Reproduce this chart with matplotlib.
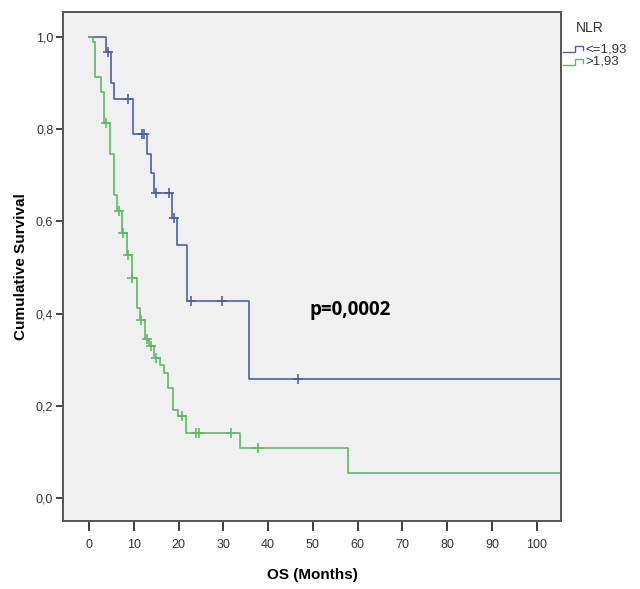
import matplotlib
matplotlib.use("Agg")
import matplotlib.pyplot as plt
from matplotlib.lines import Line2D

plt.rcParams['font.family'] = ['Liberation Sans', 'DejaVu Sans']

# Kaplan-Meier step data (time in months, survival after the step)
low_t = [0, 3.8, 4.9, 5.6, 9.8, 12.9, 13.8, 14.5, 18.5, 19.7, 21.8, 35.8, 105.5]
low_s = [1.0, 0.967, 0.90, 0.865, 0.79, 0.746, 0.704, 0.661, 0.607, 0.549, 0.428, 0.257, 0.257]
low_cens_t = [4.2, 8.7, 11.9, 12.4, 15.0, 17.9, 18.9, 22.7, 29.8, 46.7]
low_cens_s = [0.967, 0.865, 0.79, 0.79, 0.661, 0.661, 0.607, 0.428, 0.428, 0.257]

high_t = [0, 0.8, 1.3, 2.6, 3.3, 4.7, 5.5, 6.3, 7.4, 8.5, 9.7, 10.7, 11.3, 12.6,
          13.5, 14.5, 15.8, 16.7, 17.7, 18.8, 19.9, 21.6, 33.8, 57.9, 105.5]
high_s = [1.0, 0.99, 0.913, 0.881, 0.813, 0.746, 0.657, 0.622, 0.575, 0.527, 0.477,
          0.411, 0.385, 0.344, 0.33, 0.303, 0.288, 0.27, 0.238, 0.191, 0.178, 0.142,
          0.108, 0.055, 0.055]
high_cens_t = [3.9, 6.7, 7.7, 8.8, 9.5, 11.7, 12.9, 13.8, 15.0, 20.8, 23.8, 24.6, 31.8, 37.8]
high_cens_s = [0.813, 0.622, 0.575, 0.527, 0.477, 0.385, 0.344, 0.33, 0.303, 0.178,
               0.142, 0.142, 0.142, 0.108]

x_ticks = list(range(0, 101, 10))
y_ticks = [0.0, 0.2, 0.4, 0.6, 0.8, 1.0]
y_labels = ['0,0', '0,2', '0,4', '0,6', '0,8', '1,0']

blue = '#4f5fa6'
green = '#5cba64'

fig = plt.figure(figsize=(6.4, 5.89), dpi=100)
ax = fig.add_axes([0.0984, 0.1154, 0.7782, 0.8642])
ax.set_facecolor('#f0f0f0')

ax.step(low_t, low_s, where='post', color=blue, lw=1.2)
ax.step(high_t, high_s, where='post', color=green, lw=1.2)
ax.plot(low_cens_t, low_cens_s, '+', color=blue, ms=6.5, mew=1.2)
ax.plot(high_cens_t, high_cens_s, '+', color=green, ms=6.5, mew=1.2)

ax.set_xlim(-5.8, 105.4)
ax.set_ylim(-0.05, 1.054)
ax.set_xticks(x_ticks)
ax.set_yticks(y_ticks)
ax.set_yticklabels(y_labels)
ax.tick_params(axis='x', direction='out', length=7, width=1.3, colors='#333333',
               labelsize=9, pad=6)
ax.tick_params(axis='y', direction='out', length=5, width=1.3, colors='#333333',
               labelsize=9, pad=2)
for sp in ax.spines.values():
    sp.set_color('#555555')
    sp.set_linewidth(1.4)

ax.set_xlabel('OS (Months)', fontsize=11, fontweight='bold', labelpad=12)
ax.set_ylabel('Cumulative Survival', fontsize=11, fontweight='bold', labelpad=6)

ax.text(49.3, 0.408, 'p=0,0002', fontsize=13.5, fontweight='bold',
        ha='left', va='center', family=['Open Sans', 'DejaVu Sans'])

# legend drawn in figure pixels
W, H = 640, 589
fig.text(590 / W, 1 - 28 / H, 'NLR', ha='center', va='center', fontsize=10, color='#333333')
for yy, col, lab in [(49, blue, '<=1,93'), (62, green, '>1,93')]:
    xs = [563 / W, 575 / W, 575 / W, 583 / W, 583 / W]
    ys = [1 - (yy + 3) / H, 1 - (yy + 3) / H, 1 - (yy - 3) / H, 1 - (yy - 3) / H, 1 - (yy + 1) / H]
    fig.add_artist(Line2D(xs, ys, color=col, lw=1.0))
    fig.text(585 / W, 1 - yy / H, lab, ha='left', va='center', fontsize=9.5, color='#333333')

fig.savefig('out.png', dpi=100)
